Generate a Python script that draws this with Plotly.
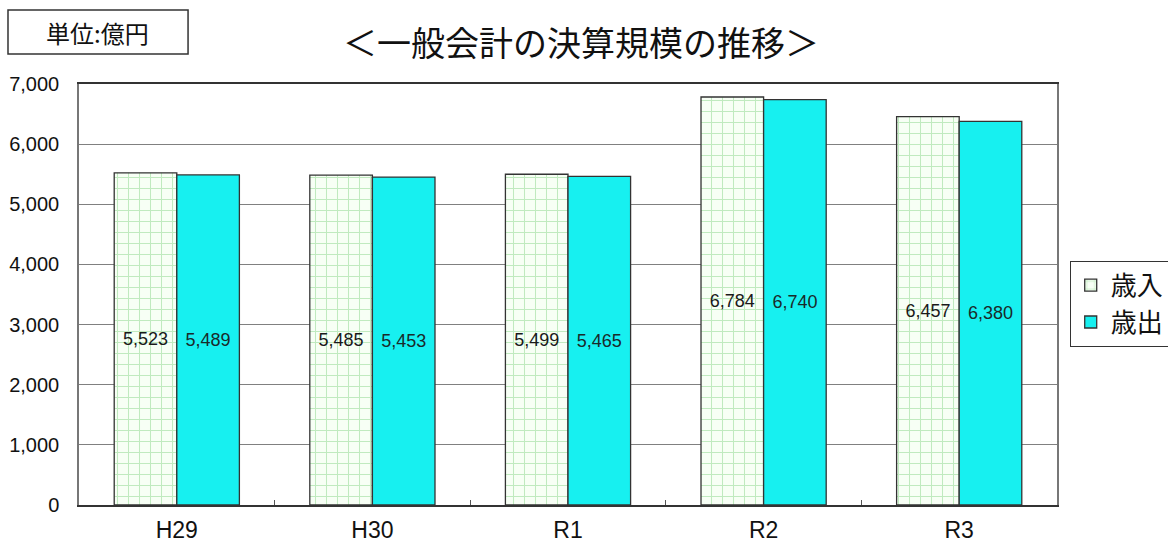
import plotly.graph_objects as go

# 一般会計の決算規模（単位：億円）
years = ["H29", "H30", "R1", "R2", "R3"]
revenue = [5523, 5485, 5499, 6784, 6457]      # 歳入
expenditure = [5489, 5453, 5465, 6740, 6380]  # 歳出
y_ticks = [0, 1000, 2000, 3000, 4000, 5000, 6000, 7000]

FONT = "Liberation Sans, Noto Sans CJK JP, sans-serif"
JP_FONT = "Noto Sans CJK JP, sans-serif"

fig = go.Figure()

fig.add_trace(go.Bar(
    name="歳入",
    x=years,
    y=revenue,
    text=[f"{v:,}" for v in revenue],
    textposition="inside",
    insidetextanchor="middle",
    textangle=0,
    textfont=dict(size=18, color="#1a1a1a", family=FONT),
    marker=dict(
        color="white",
        line=dict(color="#333333", width=1.3),
        pattern=dict(shape="+", fgcolor="#8ad68a", bgcolor="#f7fff5",
                     size=11, solidity=0.18),
    ),
))

fig.add_trace(go.Bar(
    name="歳出",
    x=years,
    y=expenditure,
    text=[f"{v:,}" for v in expenditure],
    textposition="inside",
    insidetextanchor="middle",
    textangle=0,
    textfont=dict(size=18, color="#1a2a2a", family=FONT),
    marker=dict(color="#17f0f0", line=dict(color="#333333", width=1.3)),
))

fig.update_layout(
    width=1168,
    height=549,
    paper_bgcolor="white",
    plot_bgcolor="white",
    barmode="group",
    bargap=0.36,
    bargroupgap=0,
    margin=dict(l=79, r=111, t=84, b=44, autoexpand=False),
    font=dict(family=FONT, color="#111111"),
    showlegend=True,
    legend=dict(
        x=1.013, y=0.58, xanchor="left", yanchor="top",
        bordercolor="#333333", borderwidth=1,
        font=dict(size=26, family=JP_FONT, color="#111111"),
        tracegroupgap=0, itemwidth=30,
    ),
    xaxis=dict(
        automargin=False,
        showgrid=False,
        showline=True, linecolor="#333333", linewidth=1.5, mirror=True,
        ticks="inside", ticklen=5, tickcolor="#555555", tickson="boundaries",
        tickfont=dict(size=23, family=FONT, color="#111111"),
        ticklabelstandoff=4,
    ),
    yaxis=dict(
        automargin=False,
        range=[0, 7000],
        tickvals=y_ticks,
        tickformat=",d",
        showgrid=True, gridcolor="#808080", gridwidth=1,
        showline=True, linecolor="#777777", linewidth=1.5, mirror=True,
        ticks="", ticklen=0,
        tickfont=dict(size=20, family=FONT, color="#111111"),
        ticklabelstandoff=14,
        zeroline=False,
    ),
    shapes=[
        dict(
            type="rect", xref="paper", yref="paper",
            x0=-0.0726, x1=0.1115, y0=1.0713, y1=1.1758,
            line=dict(color="#333333", width=1.5),
            fillcolor="white",
        ),
    ],
    annotations=[
        dict(
            text="＜一般会計の決算規模の推移＞",
            xref="paper", yref="paper",
            x=0.513, y=1.10, xanchor="center", yanchor="middle",
            showarrow=False,
            font=dict(size=34, family=JP_FONT, color="#111111"),
        ),
        dict(
            text="単位:億円",
            xref="paper", yref="paper",
            x=0.0194, y=1.1235, xanchor="center", yanchor="middle",
            showarrow=False,
            font=dict(size=24, family=JP_FONT, color="#111111"),
        ),
    ],
)

fig.write_html("out.html")
